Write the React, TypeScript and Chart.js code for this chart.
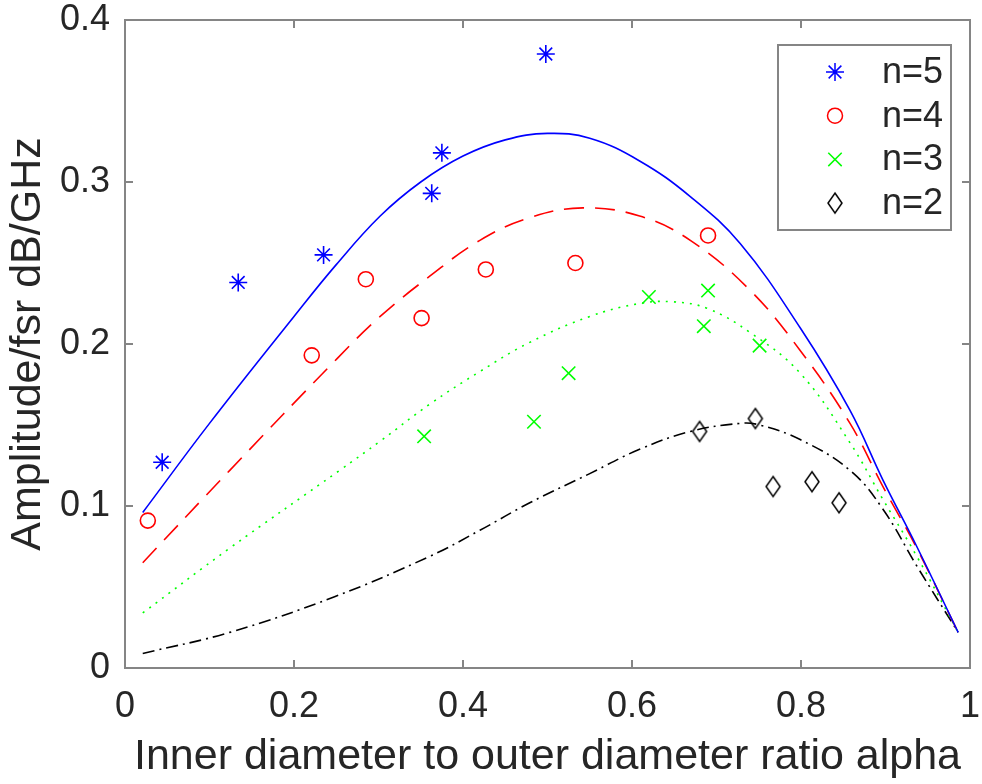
import React, { useEffect, useRef } from "react";
import { Chart, registerables } from "chart.js";
import { drawPoint } from "chart.js/helpers";

Chart.register(...registerables);

const FONT = "'Liberation Sans', Arial, Helvetica, sans-serif";

// Fitted curves
const curve5X = [0.021, 0.1, 0.2, 0.25, 0.302, 0.35, 0.4, 0.45, 0.5, 0.55, 0.609, 0.669, 0.728, 0.799, 0.858, 0.897, 0.937, 0.986];
const curve5Y = [0.096, 0.151, 0.217, 0.249, 0.279, 0.3, 0.316, 0.326, 0.33, 0.327, 0.313, 0.291, 0.262, 0.21, 0.159, 0.116, 0.075, 0.022];

const curve4X = [0.021, 0.124, 0.251, 0.302, 0.361, 0.42, 0.479, 0.542, 0.609, 0.669, 0.74, 0.799, 0.858, 0.897, 0.937, 0.986];
const curve4Y = [0.065, 0.122, 0.191, 0.217, 0.242, 0.264, 0.278, 0.284, 0.279, 0.264, 0.233, 0.196, 0.151, 0.112, 0.074, 0.022];

const curve3X = [0.021, 0.124, 0.254, 0.302, 0.361, 0.42, 0.479, 0.55, 0.609, 0.649, 0.689, 0.74, 0.799, 0.858, 0.897, 0.937, 0.986];
const curve3Y = [0.034, 0.074, 0.122, 0.14, 0.163, 0.183, 0.201, 0.217, 0.225, 0.226, 0.222, 0.207, 0.182, 0.139, 0.104, 0.069, 0.022];

const curve2X = [0.021, 0.124, 0.248, 0.361, 0.42, 0.479, 0.55, 0.609, 0.669, 0.728, 0.751, 0.799, 0.858, 0.897, 0.937, 0.986];
const curve2Y = [0.009, 0.022, 0.044, 0.069, 0.085, 0.102, 0.12, 0.135, 0.146, 0.151, 0.15, 0.141, 0.122, 0.098, 0.063, 0.022];

// Measured points
const n5X = [0.044, 0.134, 0.235, 0.363, 0.375, 0.498];
const n5Y = [0.127, 0.238, 0.255, 0.293, 0.318, 0.379];

const n4X = [0.027, 0.221, 0.285, 0.351, 0.427, 0.533, 0.69];
const n4Y = [0.091, 0.193, 0.24, 0.216, 0.246, 0.25, 0.267];

const n3X = [0.354, 0.484, 0.525, 0.62, 0.685, 0.69, 0.751];
const n3Y = [0.143, 0.152, 0.182, 0.229, 0.211, 0.233, 0.199];

const n2X = [0.68, 0.746, 0.767, 0.813, 0.845];
const n2Y = [0.146, 0.154, 0.112, 0.115, 0.102];

const xTickValues = [0, 0.2, 0.4, 0.6, 0.8, 1];
const xTickLabels = ["0", "0.2", "0.4", "0.6", "0.8", "1"];
const yTickValues = [0, 0.1, 0.2, 0.3, 0.4];
const yTickLabels = ["0", "0.1", "0.2", "0.3", "0.4"];
const seriesNames = ["n=5", "n=4", "n=3", "n=2"];
const xTitle = "Inner diameter to outer diameter ratio alpha";
const yTitle = "Amplitude/fsr dB/GHz";

const BLUE = "#0000ff";
const RED = "#ff0000";
const GREEN = "#00ff00";
const BLACK = "#000000";
const AXIS = "#858585";
const TEXT = "#262626";

function pts(xs: number[], ys: number[]) {
  return xs.map((x, i) => ({ x, y: ys[i] }));
}

function makeDiamond(): HTMLCanvasElement {
  const c = document.createElement("canvas");
  c.width = 18;
  c.height = 24;
  const g = c.getContext("2d")!;
  g.strokeStyle = BLACK;
  g.lineWidth = 1.5;
  g.beginPath();
  g.moveTo(9, 2);
  g.lineTo(16, 12);
  g.lineTo(9, 22);
  g.lineTo(2, 12);
  g.closePath();
  g.stroke();
  return c;
}

function zeroPadding(s: any) {
  s.paddingTop = 0;
  s.paddingBottom = 0;
  s.paddingLeft = 0;
  s.paddingRight = 0;
}

export default function App() {
  const ref = useRef<HTMLCanvasElement>(null);

  useEffect(() => {
    const diamond = makeDiamond();
    Chart.defaults.font.family = FONT;

    const markerStyles = [
      { style: "star", radius: 9, color: BLUE },
      { style: "circle", radius: 7.5, color: RED },
      { style: "crossRot", radius: 9.5, color: GREEN },
      { style: diamond, radius: 8, color: BLACK },
    ];

    const framePlugin = {
      id: "frame",
      afterDraw(chart: any) {
        const { ctx, chartArea: a, scales } = chart;
        ctx.save();
        ctx.strokeStyle = AXIS;
        ctx.lineWidth = 2;
        ctx.strokeRect(a.left, a.top, a.right - a.left, a.bottom - a.top);
        const L = 8;
        ctx.beginPath();
        xTickValues.forEach((v) => {
          const p = scales.x.getPixelForValue(v);
          ctx.moveTo(p, a.bottom);
          ctx.lineTo(p, a.bottom - L);
          ctx.moveTo(p, a.top);
          ctx.lineTo(p, a.top + L);
        });
        yTickValues.forEach((v) => {
          const p = scales.y.getPixelForValue(v);
          ctx.moveTo(a.left, p);
          ctx.lineTo(a.left + L, p);
          ctx.moveTo(a.right, p);
          ctx.lineTo(a.right - L, p);
        });
        ctx.stroke();

        // legend box
        const bx = a.right - 192;
        const by = a.top + 25;
        const bw = 173;
        const bh = 185;
        ctx.fillStyle = "#ffffff";
        ctx.fillRect(bx, by, bw, bh);
        ctx.strokeStyle = AXIS;
        ctx.lineWidth = 2;
        ctx.strokeRect(bx, by, bw, bh);
        ctx.font = `36px ${FONT}`;
        ctx.textBaseline = "middle";
        ctx.textAlign = "left";
        seriesNames.forEach((name, i) => {
          const cy = by + 27 + i * 43.7;
          const m = markerStyles[i];
          ctx.strokeStyle = m.color;
          ctx.fillStyle = "rgba(0,0,0,0)";
          ctx.lineWidth = 1.5;
          drawPoint(ctx, { pointStyle: m.style as any, radius: m.radius, rotation: 0, borderWidth: 1.5 }, bx + 57, cy);
          ctx.fillStyle = TEXT;
          ctx.fillText(name, bx + 104, cy + 1);
        });
        ctx.restore();
      },
    };

    const markerDs = (label: string, xs: number[], ys: number[], i: number) => ({
      label,
      data: pts(xs, ys),
      showLine: false,
      pointStyle: markerStyles[i].style as any,
      pointRadius: markerStyles[i].radius,
      pointBorderColor: markerStyles[i].color,
      pointBackgroundColor: "rgba(0,0,0,0)",
      pointBorderWidth: 1.6,
      borderColor: markerStyles[i].color,
      backgroundColor: "rgba(0,0,0,0)",
    });

    const curveDs = (label: string, xs: number[], ys: number[], color: string, dash: number[]) => ({
      label,
      data: pts(xs, ys),
      showLine: true,
      pointRadius: 0,
      borderColor: color,
      backgroundColor: "rgba(0,0,0,0)",
      borderWidth: 1.6,
      borderDash: dash,
      tension: 0.4,
      fill: false,
    });

    const chart = new Chart(ref.current!, {
      type: "scatter",
      data: {
        datasets: [
          markerDs(seriesNames[0], n5X, n5Y, 0),
          markerDs(seriesNames[1], n4X, n4Y, 1),
          markerDs(seriesNames[2], n3X, n3Y, 2),
          markerDs(seriesNames[3], n2X, n2Y, 3),
          curveDs("fit n=5", curve5X, curve5Y, BLUE, []),
          curveDs("fit n=4", curve4X, curve4Y, RED, [20, 11]),
          curveDs("fit n=3", curve3X, curve3Y, GREEN, [2, 6]),
          curveDs("fit n=2", curve2X, curve2Y, BLACK, [12, 5, 2, 5]),
        ] as any,
      },
      options: {
        animation: false,
        responsive: false,
        events: [],
        layout: { padding: { top: 20, right: 12, left: 0, bottom: 0 } },
        plugins: {
          legend: { display: false },
          tooltip: { enabled: false },
        },
        scales: {
          x: {
            type: "linear",
            min: 0,
            max: 1,
            grid: { display: false, drawTicks: false },
            border: { display: false },
            afterBuildTicks: (s: any) => {
              s.ticks = xTickValues.map((v) => ({ value: v }));
            },
            afterFit: (s: any) => {
              s.height = 116;
              zeroPadding(s);
            },
            ticks: {
              font: { size: 36, lineHeight: 1 },
              color: TEXT,
              padding: 21,
              maxRotation: 0,
              autoSkip: false,
              callback: (_v: any, i: number) => xTickLabels[i],
            },
            title: {
              display: true,
              text: xTitle,
              color: TEXT,
              font: { size: 43 },
              padding: { top: 0, bottom: 1 },
            },
          },
          y: {
            type: "linear",
            min: 0,
            max: 0.4,
            grid: { display: false, drawTicks: false },
            border: { display: false },
            afterBuildTicks: (s: any) => {
              s.ticks = yTickValues.map((v) => ({ value: v }));
            },
            afterFit: (s: any) => {
              s.width = 125;
              zeroPadding(s);
            },
            ticks: {
              font: { size: 36, lineHeight: 1 },
              color: TEXT,
              padding: 15,
              autoSkip: false,
              callback: (_v: any, i: number) => yTickLabels[i],
            },
            title: {
              display: true,
              text: yTitle,
              color: TEXT,
              font: { size: 43 },
              padding: { top: 2, bottom: 0 },
            },
          },
        },
      },
      plugins: [framePlugin],
    });
    return () => chart.destroy();
  }, []);

  return (
    <div style={{ position: "absolute", left: 0, top: 0, width: 982, height: 784, background: "#ffffff" }}>
      <canvas ref={ref} width={982} height={784} style={{ display: "block", width: 982, height: 784 }} />
    </div>
  );
}
